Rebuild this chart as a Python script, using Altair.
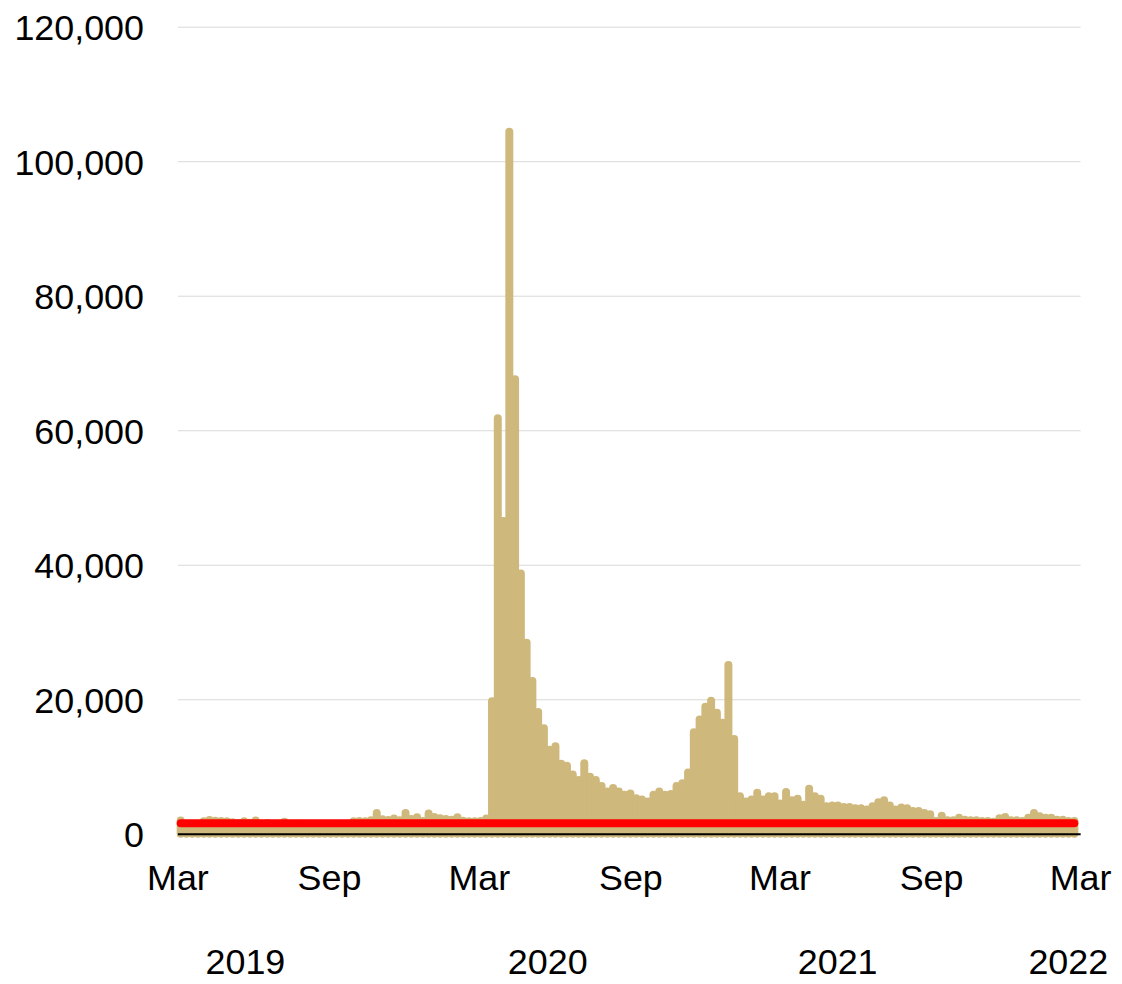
import altair as alt
import pandas as pd

# Weekly values, first week starting 2019-03-05
weekly_values = [
    1970, 1450, 1420, 1500, 1850, 2050, 1950, 1900, 1850, 1700,
    1600, 1880, 1650, 1970, 1500, 1600, 1450, 1500, 1800, 1450,
    1420, 1480, 1400, 1460, 1430, 1470, 1440, 1410, 1450, 1480,
    1880, 1900, 1870, 2000, 3100, 2150, 2050, 2270, 2000, 3100,
    2200, 2470, 1900, 3000, 2500, 2300, 2200, 2100, 2470, 1950,
    1880, 1850, 1900, 2270, 19700, 61800, 46500, 104400, 67600, 38700,
    28400, 22700, 18100, 15700, 12500, 13000, 10400, 10100, 8800, 8000,
    10500, 8500, 8000, 7100, 6300, 6800, 6300, 5800, 6000, 5300,
    5100, 4800, 5800, 6300, 5800, 5900, 7100, 7500, 9100, 15100,
    17000, 18900, 19800, 18000, 16500, 25100, 14100, 5600, 4800, 5100,
    6100, 5100, 5600, 5600, 4500, 6200, 5000, 5200, 4300, 6700,
    5600, 5200, 4100, 4200, 4200, 4000, 4000, 3800, 3800, 3600,
    4100, 4700, 5000, 4200, 3600, 3900, 3800, 3400, 3400, 3100,
    2900, 1900, 2700, 2000, 2000, 2400, 2100, 2000, 2000, 1900,
    1900, 1800, 2300, 2500, 2000, 2000, 1900, 2400, 3100, 2600,
    2400, 2400, 2100, 2100, 1900, 1900,
]
first_week = "2019-03-05"
baseline_level = [1550]

y_ticks = [0, 20000, 40000, 60000, 80000, 100000, 120000]
month_ticks = [(2019, 3, 1), (2019, 9, 1), (2020, 3, 1), (2020, 9, 1),
               (2021, 3, 1), (2021, 9, 1), (2022, 3, 1)]
year_ticks = [(2019, 5, 22), (2020, 5, 23), (2021, 5, 10), (2022, 2, 14)]
x_range = [(2019, 3, 1), (2022, 3, 1)]

dates = pd.date_range(first_week, periods=len(weekly_values), freq="7D").strftime("%Y-%m-%d")
df = pd.DataFrame({"week": list(dates), "value": weekly_values})
ref = pd.DataFrame({"start": [dates[0]], "end": [dates[-1]], "value": baseline_level})


def dt(t):
    return alt.DateTime(year=t[0], month=t[1], date=t[2], utc=True)


FONT = "Liberation Sans"
x_dom = [dt(t) for t in x_range]

y_axis = alt.Axis(
    values=y_ticks, labelExpr="format(datum.value, ',')", title=None, grid=True,
    gridColor="#d9d9d9", gridWidth=1, domain=False, ticks=False, labelFont=FONT,
    labelFontSize=36, labelColor="#000000", labelPadding=34, labelOffset=2,
)
y_scale = alt.Scale(domain=[0, 120000], nice=False)

bars = alt.Chart(df).mark_rule(strokeWidth=8, strokeCap="round", color="#CFB87C").encode(
    x=alt.X(
        "week:T",
        scale=alt.Scale(type="utc", domain=x_dom),
        axis=alt.Axis(
            values=[dt(t) for t in month_ticks],
            labelExpr="utcFormat(datum.value, '%b')",
            title=None, grid=False, ticks=False, domain=True, domainColor="#000000",
            domainWidth=2, labelFont=FONT, labelFontSize=36, labelColor="#000000",
            labelPadding=28, zindex=1, labelFlush=False, labelOverlap=False,
            orient="bottom",
        ),
    ),
    y=alt.Y("value:Q", scale=y_scale, axis=y_axis),
    y2=alt.datum(0),
)

red = alt.Chart(ref).mark_rule(strokeWidth=8, strokeCap="round", color="#FF0000").encode(
    x=alt.X(
        "start:T",
        scale=alt.Scale(type="utc", domain=x_dom),
        axis=alt.Axis(
            values=[dt(t) for t in year_ticks],
            labelExpr="utcFormat(datum.value, '%Y')",
            title=None, grid=False, ticks=False, domain=False,
            labelFont=FONT, labelFontSize=36, labelColor="#000000",
            labelPadding=112, labelFlush=False, labelOverlap=False, orient="bottom",
        ),
    ),
    x2="end:T",
    y=alt.Y("value:Q", scale=y_scale, axis=y_axis),
)

chart = (
    alt.layer(bars, red)
    .resolve_scale(x="independent")
    .properties(
        width=906, height=810,
        autosize=alt.AutoSizeParams(type="none"),
        padding={"left": 170, "top": 17, "right": 34, "bottom": 150},
    )
    .configure_view(strokeWidth=0)
)

chart.save("out.html", embed_options={"renderer": "svg", "actions": False})
